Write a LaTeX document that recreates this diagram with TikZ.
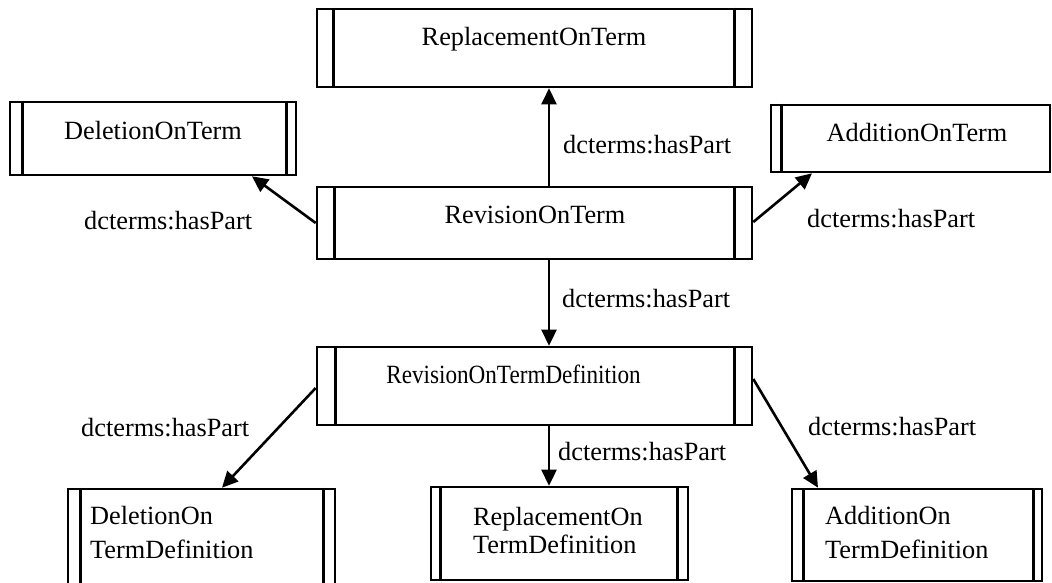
\documentclass[tikz,border=0pt]{standalone}
\usepackage{fontspec}
\setmainfont{Liberation Serif}
\usetikzlibrary{arrows.meta}
\begin{document}
\begin{tikzpicture}[x=1pt,y=-1pt,
  box/.style={draw, line width=2.6pt, inner sep=0pt, rectangle},
  bar/.style={line width=2.6pt},
  txt/.style={anchor=base, inner sep=0pt, font=\fontsize{26.3}{32}\selectfont},
  ltxt/.style={anchor=base west, inner sep=0pt, font=\fontsize{26.3}{32}\selectfont},
  lbl/.style={anchor=base west, inner sep=0pt, font=\fontsize{26.3}{32}\selectfont},
  arr/.style={line width=2.6pt, -{Triangle[length=16pt,width=15pt]}}]
\useasboundingbox (0,0) rectangle (1052,582);
\clip (0,0) rectangle (1052,582);

% boxes
\node[box, minimum width=435pt, minimum height=78pt] (rot) at (534.5,48) {};
\node[box, minimum width=286pt, minimum height=73pt] (del) at (153,138.5) {};
\node[box, minimum width=279pt, minimum height=67pt] (add) at (910.5,138.5) {};
\node[box, minimum width=435pt, minimum height=72pt] (rev) at (534.5,223) {};
\node[box, minimum width=435pt, minimum height=78pt] (revd) at (534.5,386) {};
\node[box, minimum width=267pt, minimum height=111pt] (deld) at (201.5,544.5) {};
\node[box, minimum width=257pt, minimum height=93pt] (repd) at (559.5,533.5) {};
\node[box, minimum width=250pt, minimum height=92pt] (addd) at (917,535) {};

% inner bars
\draw[bar] ([xshift=18pt]rot.north west) -- ([xshift=18pt]rot.south west);
\draw[bar] ([xshift=-19pt]rot.north east) -- ([xshift=-19pt]rot.south east);
\draw[bar] ([xshift=14pt]del.north west) -- ([xshift=14pt]del.south west);
\draw[bar] ([xshift=-11pt]del.north east) -- ([xshift=-11pt]del.south east);
\draw[bar] ([xshift=12pt]add.north west) -- ([xshift=12pt]add.south west);
\draw[bar] ([xshift=19pt]rev.north west) -- ([xshift=19pt]rev.south west);
\draw[bar] ([xshift=-19pt]rev.north east) -- ([xshift=-19pt]rev.south east);
\draw[bar] ([xshift=20pt]revd.north west) -- ([xshift=20pt]revd.south west);
\draw[bar] ([xshift=-19pt]revd.north east) -- ([xshift=-19pt]revd.south east);
\draw[bar] ([xshift=14pt]deld.north west) -- ([xshift=14pt]deld.south west);
\draw[bar] ([xshift=-13pt]deld.north east) -- ([xshift=-13pt]deld.south east);
\draw[bar] ([xshift=11pt]repd.north west) -- ([xshift=11pt]repd.south west);
\draw[bar] ([xshift=-12pt]repd.north east) -- ([xshift=-12pt]repd.south east);
\draw[bar] ([xshift=13pt]addd.north west) -- ([xshift=13pt]addd.south west);
\draw[bar] ([xshift=-10pt]addd.north east) -- ([xshift=-10pt]addd.south east);

% box texts
\node[txt] (rot-t) at (534,45) {ReplacementOnTerm};
\node[txt] (del-t) at (153,139) {DeletionOnTerm};
\node[txt] (add-t) at (917,141) {AdditionOnTerm};
\node[txt] (rev-t) at (535,223) {RevisionOnTerm};
\node[txt] (revd-t) at (513.5,383) {\scalebox{0.88}[1]{RevisionOnTermDefinition}};
\node[ltxt] (deld-t1) at (90,524) {DeletionOn};
\node[ltxt] (deld-t2) at (90,558) {TermDefinition};
\node[ltxt] (repd-t1) at (473,525) {ReplacementOn};
\node[ltxt] (repd-t2) at (473,553) {TermDefinition};
\node[ltxt] (addd-t1) at (825,524) {AdditionOn};
\node[ltxt] (addd-t2) at (825,558) {TermDefinition};

% connectors
\draw[arr] ([xshift=14.5pt]rev.north) -- ([xshift=14.5pt]rot.south);
\draw[arr] (rev.west) -- ([xshift=99pt]del.south);
\draw[arr] ([yshift=1pt]rev.east) -- ([xshift=-98.5pt]add.south);
\draw[arr] ([xshift=14.5pt]rev.south) -- ([xshift=14.5pt]revd.north);
\draw[arr] ([yshift=-2pt]revd.west) -- ([xshift=20.5pt]deld.north);
\draw[arr] ([xshift=14.5pt]revd.south) -- ([xshift=-10.5pt]repd.north);
\draw[arr] ([yshift=7pt]revd.east) -- ([xshift=-99pt]addd.north);

% connector labels
\node[lbl] (l1) at (563,153) {dcterms:hasPart};
\node[lbl] (l2) at (84,229) {dcterms:hasPart};
\node[lbl] (l3) at (807,227) {dcterms:hasPart};
\node[lbl] (l4) at (562,307) {dcterms:hasPart};
\node[lbl] (l5) at (81,436) {dcterms:hasPart};
\node[lbl] (l6) at (558,460) {dcterms:hasPart};
\node[lbl] (l7) at (808,435) {dcterms:hasPart};
\end{tikzpicture}
\end{document}
